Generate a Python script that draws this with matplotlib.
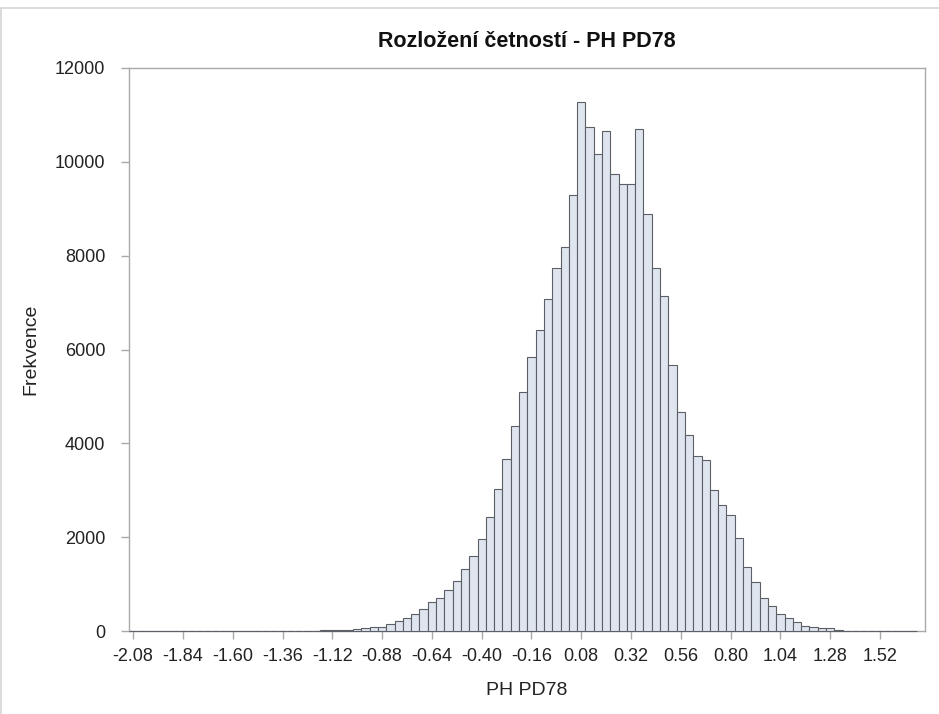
import numpy as np
import matplotlib.pyplot as plt
from matplotlib.patches import Rectangle

plt.rcParams.update({"font.family": "sans-serif",
                     "font.sans-serif": ["Liberation Sans", "DejaVu Sans"]})

# histogram bins (midpoints, width 0.04) and counts
bin_width = 0.04
first_mid = -2.08
counts = [
    1, 1, 0, 1, 1, 1, 1, 2, 1, 2, 2, 2, 3, 3, 3, 4, 4, 5, 6, 7, 8, 9, 10, 11,
    14, 18, 28, 38, 70, 78, 92, 142, 210, 275, 365, 465, 625, 700, 873, 1065,
    1318, 1604, 1953, 2435, 3025, 3664, 4373, 5090, 5845, 6410, 7087, 7740,
    8187, 9300, 11285, 10740, 10170, 10650, 9745, 9535, 9535, 10700, 8890,
    7740, 7135, 5680, 4665, 4170, 3740, 3650, 3005, 2681, 2476, 1972, 1360,
    1045, 705, 525, 366, 284, 182, 114, 78, 71, 57, 28, 10, 6, 4, 3, 2, 2,
    1, 1, 1,
]
mids = first_mid + bin_width * np.arange(len(counts))

xticks = [-2.08, -1.84, -1.60, -1.36, -1.12, -0.88, -0.64, -0.40, -0.16,
          0.08, 0.32, 0.56, 0.80, 1.04, 1.28, 1.52]
yticks = [0, 2000, 4000, 6000, 8000, 10000, 12000]

W, H = 939, 714
fig = plt.figure(figsize=(W / 100, H / 100), dpi=100)
ax = fig.add_axes([129 / W, 1 - 631 / H, (925 - 129) / W, (631 - 68) / H])

ax.bar(mids, counts, width=bin_width, color="#dfe5ef", edgecolor="#5c6066",
       linewidth=0.8, align="center", zorder=3, clip_on=False)

ax.set_xlim(-2.1, 1.737)
ax.set_ylim(0, 12000)
ax.set_xticks(xticks)
ax.set_xticklabels([f"{t:.2f}" for t in xticks])
ax.set_yticks(yticks)

frame = "#a9a9a9"
for s in ax.spines.values():
    s.set_color(frame)
    s.set_linewidth(1.0)
ax.tick_params(direction="out", length=6, width=1, color=frame,
               labelsize=13, labelcolor="#222222")
ax.tick_params(axis="x", pad=6)
ax.tick_params(axis="y", pad=11)

ax.set_title("Rozložení četností - PH PD78", fontsize=15.5, fontweight="bold",
             pad=15, color="#111111")
ax.set_xlabel("PH PD78", fontsize=14, color="#222222")
ax.set_ylabel("Frekvence", fontsize=14, color="#222222")
ax.xaxis.set_label_coords(0.5, -0.09)
ax.yaxis.set_label_coords(-0.113, 0.5)

# light outer border round the graph
fig.patches.append(Rectangle((1 / W, -0.1), 1.2, 1.1 - 8 / H,
                             transform=fig.transFigure, fill=False,
                             edgecolor="#d4d4d4", linewidth=1.2))

fig.savefig("out.png", dpi=100)
